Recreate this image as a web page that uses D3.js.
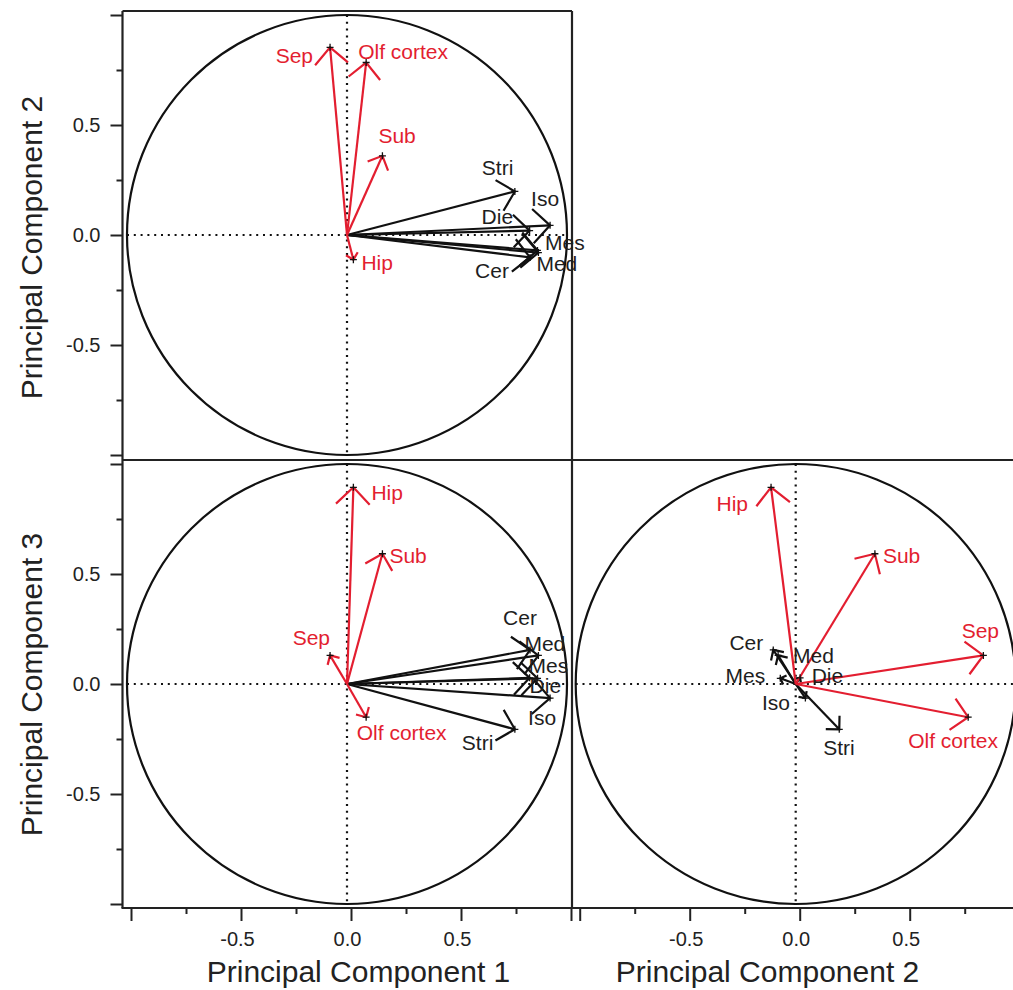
<!DOCTYPE html>
<html>
<head>
<meta charset="utf-8">
<script src="https://cdn.jsdelivr.net/npm/d3@7"></script>
<style>
  body { margin: 0; background: #fff; }
  text { font-family: "Liberation Sans", Arial, Helvetica, sans-serif; }
</style>
</head>
<body>
<div id="chart"></div>
<script>
// loadings
const regions = ["Sep", "Olf cortex", "Sub", "Hip", "Stri", "Iso", "Die", "Mes", "Med", "Cer"];
const pc1 = [-0.077, 0.087, 0.161, 0.029, 0.763, 0.923, 0.830, 0.866, 0.870, 0.832];
const pc2 = [0.853, 0.784, 0.360, -0.112, 0.198, 0.044, 0.020, -0.070, -0.080, -0.102];
const pc3 = [0.130, -0.151, 0.592, 0.894, -0.206, -0.064, 0.028, 0.026, 0.130, 0.155];
const redRegions = ["Sep", "Olf cortex", "Sub", "Hip"];

const majorTicks = [-1, -0.5, 0, 0.5, 1];
const minorTicks = [-0.75, -0.25, 0.25, 0.75];
const axisTitles = ["Principal Component 1", "Principal Component 2", "Principal Component 3"];

// where each label sits relative to its arrow tip: [dx, dy, anchor]
const labelSpots = {
  "12": {
    "Sep": [-17, 16, "end"], "Olf cortex": [-8, -3.5, "start"], "Sub": [-4, -13, "start"],
    "Hip": [8, 10, "start"], "Stri": [-33, -16, "start"], "Iso": [-19, -19, "start"],
    "Die": [-48, -6.5, "start"], "Mes": [7.5, 0, "start"], "Med": [-2, 18, "start"],
    "Cer": [-55, 21, "start"]
  },
  "13": {
    "Hip": [18, 13, "start"], "Sub": [7, 9.5, "start"], "Sep": [0, -10, "end"],
    "Olf cortex": [-9.4, 23, "start"], "Stri": [-53, 21, "start"], "Iso": [-22, 27, "start"],
    "Die": [0, 15.5, "start"], "Mes": [-9, -5, "start"], "Med": [-14, -4, "start"],
    "Cer": [-27, -25, "start"]
  },
  "23": {
    "Hip": [-23, 23.4, "end"], "Sub": [8, 9.5, "start"], "Sep": [-21.7, -17, "start"],
    "Olf cortex": [-60, 31, "start"], "Stri": [-16, 25.7, "start"], "Iso": [-15.4, 12, "end"],
    "Die": [11.6, 5.5, "start"], "Mes": [-15, 5, "end"], "Med": [15, 8, "start"],
    "Cer": [-10, 0, "end"]
  }
};

const width = 1013, height = 990;
const RED = "#e31e30", INK = "#111";

const svg = d3.select("#chart").append("svg")
  .attr("width", width)
  .attr("height", height);

const xLeft = d3.scaleLinear().domain([-1, 1]).range([127, 567]);
const xRight = d3.scaleLinear().domain([-1, 1]).range([575.7, 1015.7]);
const yTop = d3.scaleLinear().domain([-1, 1]).range([455, 15]);
const yBottom = d3.scaleLinear().domain([-1, 1]).range([904, 464]);

const panels = [
  { key: "12", xs: pc1, ys: pc2, x: xLeft, y: yTop },
  { key: "13", xs: pc1, ys: pc3, x: xLeft, y: yBottom },
  { key: "23", xs: pc2, ys: pc3, x: xRight, y: yBottom }
];

// frame lines
const frame = svg.append("g").attr("stroke", "#222").attr("stroke-width", 2.2);
[[122.5, 11, 572, 11], [122.5, 11, 122.5, 908], [572, 11, 572, 908],
 [122.5, 460, 1013, 460], [121.5, 908, 1013, 908]].forEach(l => {
  frame.append("line").attr("x1", l[0]).attr("y1", l[1]).attr("x2", l[2]).attr("y2", l[3]);
});

function headPath(x0, y0, x1, y1) {
  const len = Math.hypot(x1 - x0, y1 - y0);
  const a = 1.7 * Math.sqrt(len);
  const ang = Math.atan2(y1 - y0, x1 - x0);
  const p1 = [x1 - a * Math.cos(ang - Math.PI / 4), y1 - a * Math.sin(ang - Math.PI / 4)];
  const p2 = [x1 - a * Math.cos(ang + Math.PI / 4), y1 - a * Math.sin(ang + Math.PI / 4)];
  return `M${p1[0]},${p1[1]}L${x1},${y1}L${p2[0]},${p2[1]}`;
}

panels.forEach(p => {
  const g = svg.append("g");
  const cx = p.x(0), cy = p.y(0);

  g.append("circle")
    .attr("cx", cx).attr("cy", cy)
    .attr("r", p.x(1) - p.x(0))
    .attr("fill", "none").attr("stroke", INK).attr("stroke-width", 2.2);

  const dots = g.append("g").attr("stroke", INK).attr("stroke-width", 2.2)
    .attr("stroke-dasharray", "2,4.8");
  dots.append("line").attr("x1", p.x(-1)).attr("x2", p.x(1)).attr("y1", cy).attr("y2", cy);
  dots.append("line").attr("x1", cx).attr("x2", cx).attr("y1", p.y(1)).attr("y2", p.y(-1));

  // black first, red on top
  const order = d3.range(regions.length)
    .sort((a, b) => redRegions.includes(regions[a]) - redRegions.includes(regions[b]));

  const vec = g.selectAll("g.vec").data(order).enter().append("g")
    .attr("class", "vec")
    .attr("stroke", i => redRegions.includes(regions[i]) ? RED : INK)
    .attr("stroke-width", 2.2)
    .attr("fill", "none");

  vec.append("line")
    .attr("x1", cx).attr("y1", cy)
    .attr("x2", i => p.x(p.xs[i]))
    .attr("y2", i => p.y(p.ys[i]));

  vec.append("path")
    .attr("d", i => headPath(cx, cy, p.x(p.xs[i]), p.y(p.ys[i])));

  g.selectAll("path.tip").data(order).enter().append("path")
    .attr("class", "tip")
    .attr("d", i => {
      const tx = p.x(p.xs[i]), ty = p.y(p.ys[i]);
      return `M${tx - 3.5},${ty}h7M${tx},${ty - 3.5}v7`;
    })
    .attr("stroke", INK).attr("stroke-width", 1.3);

  g.selectAll("text.lab").data(order).enter().append("text")
    .attr("class", "lab")
    .attr("x", i => p.x(p.xs[i]) + labelSpots[p.key][regions[i]][0])
    .attr("y", i => p.y(p.ys[i]) + labelSpots[p.key][regions[i]][1])
    .attr("text-anchor", i => labelSpots[p.key][regions[i]][2])
    .attr("font-size", 21)
    .attr("fill", i => redRegions.includes(regions[i]) ? RED : "#1e1e1e")
    .text(i => regions[i]);
});

// axes
const fmt = d => (Math.abs(d) === 1 ? "" : d.toFixed(1));

function styleAxis(g) {
  g.select(".domain").remove();
  g.attr("font-family", null).attr("font-size", 20);
  g.selectAll(".tick line").attr("stroke", "#222").attr("stroke-width", 2);
  g.selectAll(".tick text").attr("fill", "#222");
}

[yTop, yBottom].forEach(y => {
  svg.append("g").attr("transform", "translate(122.5,0)")
    .call(d3.axisLeft(y).tickValues(majorTicks).tickSize(12).tickPadding(10).tickFormat(fmt))
    .call(styleAxis);
  svg.append("g").attr("transform", "translate(122.5,0)")
    .call(d3.axisLeft(y).tickValues(minorTicks).tickSize(6).tickFormat(""))
    .call(styleAxis);
});

[xLeft, xRight].forEach(x => {
  const major = svg.append("g").attr("transform", "translate(0,908)")
    .call(d3.axisBottom(x).tickValues(majorTicks).tickSize(13).tickPadding(11).tickFormat(fmt))
    .call(styleAxis);
  const minor = svg.append("g").attr("transform", "translate(0,908)")
    .call(d3.axisBottom(x).tickValues(minorTicks).tickSize(6).tickFormat(""))
    .call(styleAxis);
  // tick marks sit a few pixels right of the labels in the original
  major.selectAll(".tick line").attr("transform", "translate(4,0)");
  minor.selectAll(".tick line").attr("transform", "translate(4,0)");
});

// axis titles
svg.append("text").attr("x", 358.5).attr("y", 981.7).attr("text-anchor", "middle")
  .attr("font-size", 30).attr("fill", "#222").text(axisTitles[0]);
svg.append("text").attr("x", 767.5).attr("y", 981.7).attr("text-anchor", "middle")
  .attr("font-size", 30).attr("fill", "#222").text(axisTitles[1]);
svg.append("text").attr("transform", "translate(41.7,247.5) rotate(-90)")
  .attr("text-anchor", "middle").attr("font-size", 30).attr("fill", "#222").text(axisTitles[1]);
svg.append("text").attr("transform", "translate(41.7,684.5) rotate(-90)")
  .attr("text-anchor", "middle").attr("font-size", 30).attr("fill", "#222").text(axisTitles[2]);
</script>
</body>
</html>
